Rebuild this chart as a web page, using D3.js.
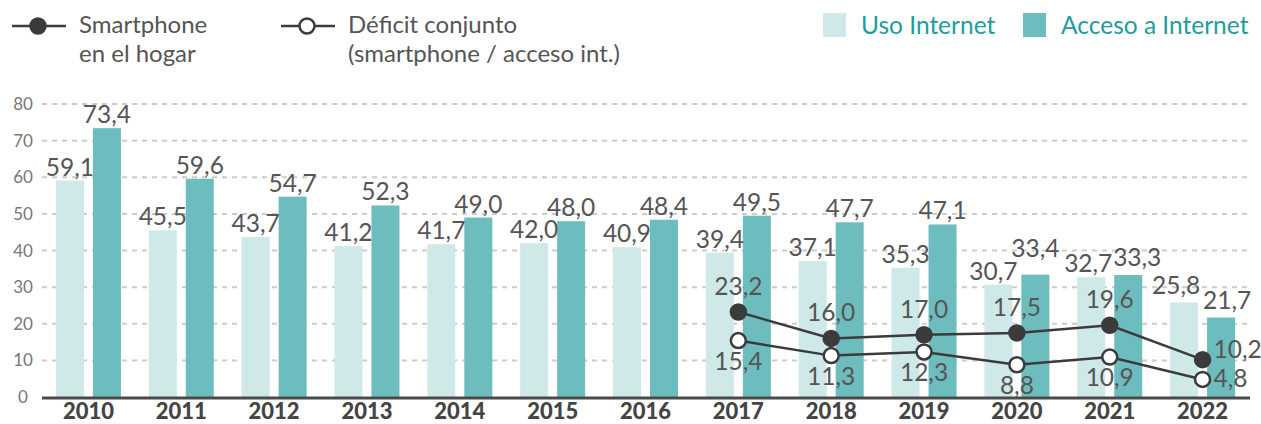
<!DOCTYPE html>
<html>
<head>
<meta charset="utf-8">
<script src="https://cdn.jsdelivr.net/npm/d3@7"></script>
<style>
  body { margin: 0; background: #fff; }
  svg text { font-family: Lato, "Open Sans", sans-serif; }
</style>
</head>
<body>
<script>
// data
var years = ["2010", "2011", "2012", "2013", "2014", "2015", "2016", "2017", "2018", "2019", "2020", "2021", "2022"];
var usoInternet = [59.1, 45.5, 43.7, 41.2, 41.7, 42.0, 40.9, 39.4, 37.1, 35.3, 30.7, 32.7, 25.8];
var accesoInternet = [73.4, 59.6, 54.7, 52.3, 49.0, 48.0, 48.4, 49.5, 47.7, 47.1, 33.4, 33.3, 21.7];
var lineYears = ["2017", "2018", "2019", "2020", "2021", "2022"];
var smartphone = [23.2, 16.0, 17.0, 17.5, 19.6, 10.2];
var deficit = [15.4, 11.3, 12.3, 8.8, 10.9, 4.8];
var yTicks = [0, 10, 20, 30, 40, 50, 60, 70, 80];

// nudges for crowded bar labels (px)
var usoLabelNudge = { "2020": [-5, 0], "2021": [-3, 0], "2022": [-8, -4] };
var accesoLabelNudge = { "2020": [0, -13], "2021": [9, -4], "2022": [6, -4] };

var width = 1261, height = 424;
var lightColor = "#cfe8e8", darkColor = "#6dbdbf", lineColor = "#3b3b3b";
var labelColor = "#555", legendTeal = "#1f9c9c";
var labelSize = "24.5px";

var fmt = function(v) { return d3.format(".1f")(v).replace(".", ","); };

var svg = d3.select("body").append("svg")
    .attr("width", width)
    .attr("height", height);

// scales
var x = d3.scaleBand().domain(years).range([42, 1249]);
var y = d3.scaleLinear().domain([0, 80]).range([397, 104]);
var barW = 28, gap = 9;

// gridlines
svg.append("g").selectAll("line")
  .data(yTicks.slice(1))
  .join("line")
    .attr("x1", 42).attr("x2", 1250)
    .attr("y1", d => y(d)).attr("y2", d => y(d))
    .attr("stroke", "#cccccc")
    .attr("stroke-width", 2)
    .attr("stroke-dasharray", "5,5");

// y tick labels
svg.append("g").selectAll("text")
  .data(yTicks)
  .join("text")
    .attr("x", 23)
    .attr("y", d => y(d) + 6)
    .attr("text-anchor", "middle")
    .attr("fill", "#777")
    .style("font-size", "17px")
    .text(d => d);

var center = d => x(d) + x.bandwidth() / 2;
var nudge = (map, d, k) => (map[d] ? map[d][k] : 0);

// bars
svg.append("g").selectAll("rect")
  .data(years)
  .join("rect")
    .attr("x", (d) => center(d) - gap / 2 - barW)
    .attr("y", (d, i) => y(usoInternet[i]))
    .attr("width", barW)
    .attr("height", (d, i) => y(0) - y(usoInternet[i]))
    .attr("fill", lightColor);

svg.append("g").selectAll("rect")
  .data(years)
  .join("rect")
    .attr("x", (d) => center(d) + gap / 2)
    .attr("y", (d, i) => y(accesoInternet[i]))
    .attr("width", barW)
    .attr("height", (d, i) => y(0) - y(accesoInternet[i]))
    .attr("fill", darkColor);

// bar labels
svg.append("g").selectAll("text")
  .data(years)
  .join("text")
    .attr("x", (d) => center(d) - gap / 2 - barW / 2 + nudge(usoLabelNudge, d, 0))
    .attr("y", (d, i) => y(usoInternet[i]) - 5 + nudge(usoLabelNudge, d, 1))
    .attr("text-anchor", "middle")
    .attr("fill", labelColor)
    .style("font-size", labelSize)
    .text((d, i) => fmt(usoInternet[i]));

svg.append("g").selectAll("text")
  .data(years)
  .join("text")
    .attr("x", (d) => center(d) + gap / 2 + barW / 2 + nudge(accesoLabelNudge, d, 0))
    .attr("y", (d, i) => y(accesoInternet[i]) - 5 + nudge(accesoLabelNudge, d, 1))
    .attr("text-anchor", "middle")
    .attr("fill", labelColor)
    .style("font-size", labelSize)
    .text((d, i) => fmt(accesoInternet[i]));

// baseline
svg.append("line")
  .attr("x1", 42).attr("x2", 1250)
  .attr("y1", y(0) + 1).attr("y2", y(0) + 1)
  .attr("stroke", "#4a4a4a")
  .attr("stroke-width", 3);

// year labels
svg.append("g").selectAll("text")
  .data(years)
  .join("text")
    .attr("x", d => center(d))
    .attr("y", 419)
    .attr("text-anchor", "middle")
    .attr("fill", "#444")
    .style("font-size", "22px")
    .style("font-weight", "900")
    .text(d => d);

// lines
var line = d3.line()
  .x((d, i) => center(lineYears[i]))
  .y(d => y(d));

function drawSeries(values, fill, labelBelow) {
  var g = svg.append("g");
  g.append("path")
    .attr("d", line(values))
    .attr("fill", "none")
    .attr("stroke", lineColor)
    .attr("stroke-width", 2.5);
  g.selectAll("circle")
    .data(values)
    .join("circle")
      .attr("cx", (d, i) => center(lineYears[i]))
      .attr("cy", d => y(d))
      .attr("r", 7.5)
      .attr("fill", fill)
      .attr("stroke", lineColor)
      .attr("stroke-width", 2.5);
  g.selectAll("text")
    .data(values)
    .join("text")
      .attr("x", (d, i) => i === values.length - 1 ? center(lineYears[i]) + 11 : center(lineYears[i]))
      .attr("y", (d, i) => {
        if (i === values.length - 1) return labelBelow ? y(d) + 8 : y(d) - 2;
        return labelBelow ? y(d) + 29 : y(d) - 17;
      })
      .attr("text-anchor", (d, i) => i === values.length - 1 ? "start" : "middle")
      .attr("fill", labelColor)
      .style("font-size", labelSize)
      .text(d => fmt(d));
}
drawSeries(smartphone, lineColor, false);
drawSeries(deficit, "#fff", true);

// legend: lines
function lineLegend(x0, filled, lines) {
  var g = svg.append("g");
  g.append("line")
    .attr("x1", x0).attr("x2", x0 + 54)
    .attr("y1", 26).attr("y2", 26)
    .attr("stroke", lineColor).attr("stroke-width", 2.5);
  g.append("circle")
    .attr("cx", x0 + 26).attr("cy", 26).attr("r", 7.5)
    .attr("fill", filled ? lineColor : "#fff")
    .attr("stroke", lineColor).attr("stroke-width", 2.5);
  lines.forEach(function(t, i) {
    g.append("text")
      .attr("x", x0 + 67).attr("y", 33 + i * 29)
      .attr("fill", labelColor)
      .style("font-size", "24px")
      .text(t);
  });
}
lineLegend(12, true, ["Smartphone", "en el hogar"]);
lineLegend(281, false, ["Déficit conjunto", "(smartphone / acceso int.)"]);

// legend: bars
function barLegend(x0, color, label) {
  svg.append("rect")
    .attr("x", x0).attr("y", 13)
    .attr("width", 23).attr("height", 24)
    .attr("fill", color);
  svg.append("text")
    .attr("x", x0 + 38).attr("y", 34)
    .attr("fill", legendTeal)
    .style("font-size", "24.5px")
    .text(label);
}
barLegend(823, lightColor, "Uso Internet");
barLegend(1023, darkColor, "Acceso a Internet");
</script>
</body>
</html>
